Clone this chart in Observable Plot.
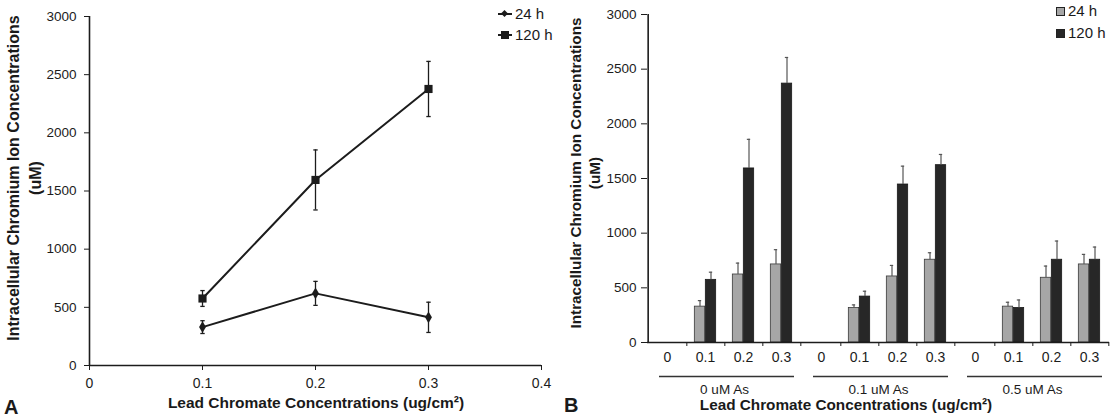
<!DOCTYPE html>
<html><head><meta charset="utf-8">
<script src="https://cdn.jsdelivr.net/npm/d3@7"></script>
<script src="https://cdn.jsdelivr.net/npm/@observablehq/plot@0.6"></script>
<style>
html,body{margin:0;padding:0;background:#fff;}
#root{position:relative;width:1110px;height:419px;overflow:hidden;font-family:"Liberation Sans",Arial,sans-serif;color:#1a1a1a;}
#root svg{position:absolute;top:0;}
.abs{position:absolute;white-space:nowrap;}
.ytitle{font-weight:bold;text-align:center;transform:rotate(-90deg);transform-origin:50% 50%;}
.xtitle{font-weight:bold;text-align:center;}
.leg{display:flex;align-items:center;font-size:15px;line-height:18px;}
</style></head><body><div id="root"></div>
<script>
// ---------- Panel A data (line chart) ----------
const concA = [0.1, 0.2, 0.3];
const a24 = [330, 620, 414];
const a24err = [55, 103, 130];
const a120 = [576, 1595, 2377];
const a120err = [68, 258, 237];
const xTicksA = [0, 0.1, 0.2, 0.3, 0.4];
const yTicks = [0, 500, 1000, 1500, 2000, 2500, 3000];

// ---------- Panel B data (grouped bars) ----------
const groups = ["0 uM As", "0.1 uM As", "0.5 uM As"];
const concB = ["0", "0.1", "0.2", "0.3"];
const b24 = [[null, 328, 622, 714], [null, 316, 604, 757], [null, 328, 592, 714]];
const b24err = [[null, 55, 104, 135], [null, 28, 101, 64], [null, 40, 107, 92]];
const b120 = [[null, 573, 1592, 2368], [null, 420, 1445, 1622], [null, 316, 757, 757]];
const b120err = [[null, 70, 266, 239], [null, 49, 168, 98], [null, 73, 171, 116]];
const seriesNames = ["24 h", "120 h"];
const xTitle = "Lead Chromate Concentrations (ug/cm²)";
const yTitle = "Intracellular Chromium Ion Concentrations";
const yUnit = "(uM)";

const root = document.getElementById("root");
const ink = "#1c1c1c";
const font = "Liberation Sans, Arial, sans-serif";

// cap symbol for error bars
const capSymbol = {draw(ctx, size) { const r = Math.sqrt(size / Math.PI); ctx.moveTo(-r, 0); ctx.lineTo(r, 0); }};

// ---------- Panel A ----------
const rowsA = concA.flatMap((c, i) => [
  {series: seriesNames[0], x: c, y: a24[i], e: a24err[i]},
  {series: seriesNames[1], x: c, y: a120[i], e: a120err[i]}
]);
const fmtA = d => d === 0 ? "0" : String(d);
const plotA = Plot.plot({
  width: 560, height: 419,
  marginLeft: 89, marginRight: 19, marginTop: 16, marginBottom: 54,
  style: {fontFamily: font, fontSize: "13.5px", color: ink, background: "transparent"},
  x: {domain: [0, 0.4]},
  y: {domain: [0, 3000]},
  marks: [
    Plot.axisY({ticks: yTicks, tickSize: 5, tickPadding: 8, tickFormat: d => String(d), label: null, stroke: ink}),
    Plot.axisX({ticks: xTicksA, tickSize: 5, tickPadding: 8, tickFormat: fmtA, label: null, fontSize: 14, stroke: ink}),
    Plot.ruleY([0], {stroke: ink, strokeWidth: 1.6}),
    Plot.ruleX([0], {stroke: ink, strokeWidth: 1.6}),
    Plot.ruleX(rowsA, {x: "x", y1: d => d.y - d.e, y2: d => d.y + d.e, stroke: ink, strokeWidth: 1.3}),
    Plot.dot(rowsA, {x: "x", y: d => d.y + d.e, symbol: capSymbol, r: 2.2, stroke: ink, fill: "none", strokeWidth: 1.3}),
    Plot.dot(rowsA, {x: "x", y: d => d.y - d.e, symbol: capSymbol, r: 2.2, stroke: ink, fill: "none", strokeWidth: 1.3}),
    Plot.line(rowsA, {x: "x", y: "y", z: "series", stroke: ink, strokeWidth: 2}),
    Plot.dot(rowsA.filter(d => d.series === seriesNames[0]), {x: "x", y: "y", symbol: "diamond", r: 3.6, fill: ink, stroke: "none"}),
    Plot.dot(rowsA.filter(d => d.series === seriesNames[1]), {x: "x", y: "y", symbol: "square", r: 4.6, fill: ink, stroke: "none"})
  ]
});
plotA.style.left = "0px";
root.appendChild(plotA);

// ---------- Panel B ----------
const rowsB = groups.flatMap((g, gi) => concB.flatMap((c, ci) => [
  {group: g, conc: c, series: seriesNames[0], v: b24[gi][ci], e: b24err[gi][ci]},
  {group: g, conc: c, series: seriesNames[1], v: b120[gi][ci], e: b120err[gi][ci]}
])).filter(d => d.v != null);
const r24 = rowsB.filter(d => d.series === seriesNames[0]);
const r120 = rowsB.filter(d => d.series === seriesNames[1]);

const WB = 550, mLB = 86, mRB = 0;
const bw = (WB - mLB - mRB) / (groups.length * concB.length);
const barW = 11, capW = 2;
const plotB = Plot.plot({
  width: WB, height: 419,
  marginLeft: mLB, marginRight: mRB, marginTop: 14, marginBottom: 77,
  style: {fontFamily: font, fontSize: "13.5px", color: ink, background: "transparent"},
  fx: {domain: groups, padding: 0},
  x: {domain: concB, padding: 0},
  y: {domain: [0, 3000]},
  marks: [
    Plot.axisY({ticks: yTicks, tickSize: 6, tickPadding: 5, tickFormat: d => String(d), label: null, stroke: ink}),
    Plot.axisX({tickSize: 0, tickPadding: 10, fontSize: 14, label: null}),
    Plot.axisX({tickSize: 4, tickFormat: () => "", dx: bw / 2, label: null, stroke: ink}),
    Plot.axisFx({anchor: "bottom", tickSize: 0, tickPadding: 42, fontSize: 13.5, label: null}),
    Plot.ruleY([0], {dy: 34, insetLeft: 12, insetRight: 7, stroke: "#333", strokeWidth: 1.6}),
    Plot.barY(r24, {fx: "group", x: "conc", y: "v", insetLeft: bw / 2 - barW, insetRight: bw / 2, fill: "#a6a6a6", stroke: "#3a3a3a", strokeWidth: 0.8}),
    Plot.barY(r120, {fx: "group", x: "conc", y: "v", insetLeft: bw / 2, insetRight: bw / 2 - barW, fill: "#272727", stroke: "#1a1a1a", strokeWidth: 0.8}),
    Plot.ruleX(r24, {fx: "group", x: "conc", y1: "v", y2: d => d.v + d.e, dx: -barW / 2, stroke: "#555", strokeWidth: 1.2}),
    Plot.ruleX(r120, {fx: "group", x: "conc", y1: "v", y2: d => d.v + d.e, dx: barW / 2, stroke: "#555", strokeWidth: 1.2}),
    Plot.tickY(r24, {fx: "group", x: "conc", y: d => d.v + d.e, insetLeft: bw / 2 - barW / 2 - capW, insetRight: bw / 2 + barW / 2 - capW, stroke: "#555", strokeWidth: 1.2}),
    Plot.tickY(r120, {fx: "group", x: "conc", y: d => d.v + d.e, insetLeft: bw / 2 + barW / 2 - capW, insetRight: bw / 2 - barW / 2 - capW, stroke: "#555", strokeWidth: 1.2}),
    Plot.ruleY([0], {stroke: ink, strokeWidth: 1.6}),
    Plot.ruleX([{g: groups[0], c: concB[0]}], {fx: "g", x: "c", dx: -bw / 2, y1: 0, y2: 3000, stroke: ink, strokeWidth: 1.6})
  ]
});
plotB.style.left = "560px";
root.appendChild(plotB);

// ---------- HTML text: titles, legends, panel letters ----------
function addDiv(html, cls, css) {
  const d = document.createElement("div");
  d.className = "abs " + cls;
  d.innerHTML = html;
  Object.assign(d.style, css);
  root.appendChild(d);
  return d;
}
// y titles
addDiv(yTitle + "<br>" + yUnit, "ytitle", {left: "-165px", top: "156px", width: "380px", height: "44px", lineHeight: "22px", fontSize: "16px"});
addDiv(yTitle + "<br>" + yUnit, "ytitle", {left: "395px", top: "154px", width: "380px", height: "38px", lineHeight: "19px", fontSize: "15.3px"});
// x titles
addDiv(xTitle, "xtitle", {left: "116px", top: "394px", width: "400px", lineHeight: "18px", fontSize: "15.5px"});
addDiv(xTitle, "xtitle", {left: "646px", top: "396px", width: "400px", lineHeight: "18px", fontSize: "15.3px"});
// panel letters
addDiv("A", "xtitle", {left: "4px", top: "397px", fontSize: "20px", lineHeight: "20px"});
addDiv("B", "xtitle", {left: "564px", top: "395px", fontSize: "20px", lineHeight: "20px"});

// legend A (line + marker)
function lineSwatch(shape) {
  const m = shape === "square"
    ? '<span style="position:absolute;left:3px;top:-3px;width:8px;height:8px;background:' + ink + '"></span>'
    : '<span style="position:absolute;left:4px;top:-2px;width:5px;height:5px;background:' + ink + ';transform:rotate(45deg)"></span>';
  return '<span style="position:relative;display:inline-block;width:14px;height:2px;background:' + ink + ';margin-right:3px">' + m + '</span>';
}
addDiv(lineSwatch("diamond") + seriesNames[0], "leg", {left: "498px", top: "5px"});
addDiv(lineSwatch("square") + seriesNames[1], "leg", {left: "498px", top: "26px"});
// legend B (square swatches)
function boxSwatch(fill) {
  return '<span style="display:inline-block;width:7px;height:7px;background:' + fill + ';border:1px solid #222;margin-right:3px"></span>';
}
addDiv(boxSwatch("#a6a6a6") + seriesNames[0], "leg", {left: "1056px", top: "2px"});
addDiv(boxSwatch("#272727") + seriesNames[1], "leg", {left: "1056px", top: "24px"});
</script>
</body></html>
